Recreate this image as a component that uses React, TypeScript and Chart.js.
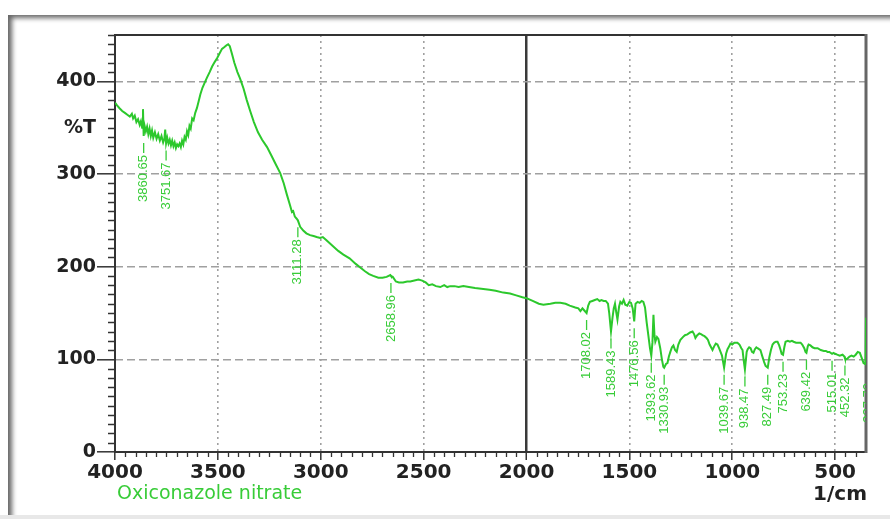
import React, { useEffect, useRef } from "react";
import { Chart, registerables } from "chart.js";

Chart.register(...registerables);

// FT-IR spectrum of Oxiconazole nitrate: [wavenumber (1/cm), %T]
const spectrumOH: [number, number][] = [
  [4000, 377], [3990, 374], [3978, 371], [3965, 368], [3952, 366], [3940, 364],
  [3928, 362], [3918, 365], [3912, 360], [3904, 363], [3896, 356], [3888, 359],
  [3880, 353], [3874, 357], [3868, 350], [3864, 370], [3860.65, 341], [3856, 352],
  [3850, 346], [3844, 351], [3838, 343], [3832, 349], [3826, 341], [3820, 347],
  [3814, 339], [3806, 345], [3798, 338], [3790, 343], [3782, 336], [3774, 341],
  [3766, 334], [3760, 338], [3756, 348], [3751.67, 333], [3746, 339], [3740, 333],
  [3734, 337], [3728, 331], [3722, 336], [3716, 330], [3710, 334], [3704, 328],
  [3698, 332], [3692, 330], [3686, 333], [3680, 329], [3674, 336], [3668, 332],
  [3662, 340], [3656, 337], [3650, 346], [3644, 342], [3638, 352], [3632, 349],
  [3625, 360], [3618, 358], [3610, 366], [3602, 371], [3594, 378], [3585, 386],
  [3575, 393], [3565, 398], [3553, 404], [3540, 410], [3528, 416], [3515, 421],
  [3504, 425], [3492, 430], [3480, 435], [3468, 437], [3458, 439], [3450, 440],
  [3442, 438], [3432, 430], [3420, 420], [3405, 410], [3392, 403], [3375, 392],
  [3360, 380], [3343, 368], [3325, 356], [3305, 345], [3285, 337], [3261, 329],
  [3240, 320], [3220, 311], [3197, 301], [3180, 290], [3165, 278], [3149, 266],
  [3140, 259], [3134, 260], [3126, 254], [3118, 252], [3111.28, 250], [3100, 243],
  [3085, 239], [3070, 236], [3052, 234], [3035, 233], [3020, 232], [3003, 231],
];

const spectrumCH: [number, number][] = [
  [2990, 232], [2975, 229], [2955, 225], [2935, 221], [2915, 217], [2890, 213],
  [2860, 209], [2830, 203], [2808, 199], [2785, 195], [2765, 192], [2745, 190],
  [2720, 188], [2700, 188], [2680, 189], [2662, 191], [2658.96, 190], [2650, 189],
  [2635, 184], [2620, 183], [2600, 183], [2580, 184], [2565, 184], [2545, 185],
  [2525, 186], [2507, 185], [2490, 183], [2475, 180], [2458, 181], [2440, 179],
  [2419, 178], [2400, 180], [2385, 178], [2371, 179], [2350, 179], [2330, 178],
  [2307, 179], [2280, 178], [2250, 177], [2210, 176], [2180, 175], [2150, 174],
  [2113, 172], [2080, 171], [2050, 169], [2020, 167], [2000, 166], [1970, 163],
  [1940, 160], [1918, 159], [1884, 160], [1860, 161], [1836, 161], [1810, 160],
];

const spectrumDouble: [number, number][] = [
  [1790, 158], [1763, 156], [1748, 155], [1738, 152], [1728, 155], [1720, 153],
  [1708.02, 150], [1700, 158], [1692, 162], [1680, 163], [1668, 164], [1656, 165],
  [1645, 163], [1636, 164], [1625, 163], [1615, 163], [1604, 160], [1598, 150],
  [1589.43, 130], [1582, 145], [1576, 155], [1570, 160], [1564, 151], [1558, 143],
  [1550, 157], [1544, 162], [1536, 160], [1528, 164], [1520, 159], [1510, 158],
  [1500, 162], [1492, 161], [1484, 155], [1476.56, 141], [1470, 160], [1460, 162],
  [1450, 161], [1440, 163], [1432, 162], [1424, 156], [1416, 140], [1408, 126],
  [1400, 112], [1393.62, 104], [1388, 118], [1383, 148], [1378, 126], [1374, 119],
  [1366, 124], [1359, 122], [1350, 112], [1342, 100], [1335, 92], [1330.93, 91],
  [1322, 95], [1315, 96], [1308, 103], [1301, 108], [1293, 113], [1286, 115],
  [1278, 110], [1270, 108], [1262, 116], [1252, 121], [1240, 124], [1230, 126],
];

const spectrumFingerprint: [number, number][] = [
  [1218, 127], [1205, 129], [1193, 130], [1185, 127], [1179, 123], [1170, 126],
  [1160, 128], [1150, 127], [1145, 126], [1135, 125], [1125, 123], [1118, 121],
  [1110, 116], [1103, 113], [1096, 110], [1088, 114], [1080, 117], [1072, 116],
  [1064, 112], [1057, 108], [1050, 104], [1039.67, 91], [1030, 106], [1023, 111],
  [1015, 114], [1009, 117], [1000, 116], [990, 118], [982, 118], [975, 118],
  [965, 116], [956, 112], [950, 110], [945, 100], [938.47, 89], [930, 108],
  [925, 111], [918, 113], [911, 112], [904, 108], [897, 107], [890, 111],
  [883, 113], [877, 112], [870, 111], [863, 110], [855, 104], [845, 97],
  [838, 93], [827.49, 91], [820, 102], [812, 110], [804, 116], [796, 118],
  [788, 119], [780, 119], [772, 115], [765, 110], [760, 106], [753.23, 105],
  [747, 113], [741, 119], [730, 120], [720, 119], [710, 120], [702, 119],
  [690, 118], [680, 118], [668, 118], [660, 116], [650, 112], [644, 108],
  [639.42, 107], [633, 114], [629, 116], [620, 115], [610, 113], [600, 112],
  [585, 112], [570, 110], [555, 109], [545, 109], [537, 108], [528, 108],
  [515.01, 106], [508, 107], [500, 106], [490, 105], [478, 104], [464, 105],
  [455, 103], [452.32, 101], [445, 100], [440, 101], [430, 103], [420, 104],
  [410, 103], [400, 105], [390, 108], [380, 107], [370, 101], [362, 96],
  [355, 95], [352, 97], [350, 145],
];

const xTickValues = [4000, 3500, 3000, 2500, 2000, 1500, 1000, 500];
const yTickValues = [0, 100, 200, 300, 400];
const peakLabels = [
  "3860.65", "3751.67", "3111.28", "2658.96", "1708.02", "1589.43", "1476.56",
  "1393.62", "1330.93", "1039.67", "938.47", "827.49", "753.23", "639.42",
  "515.01", "452.32", "337.70",
];
const sampleName = "Oxiconazole nitrate";
const xUnit = "1/cm";
const yUnit = "%T";

const X_MIN = 350;
const X_MAX = 4000;
const Y_MAX = 450;

const GREEN = "rgb(44,200,44)";
const LABEL_GREEN = "rgb(56,204,56)";
const AXIS_FONT = '"DejaVu Sans", sans-serif';

export default function App() {
  const ref = useRef<HTMLCanvasElement | null>(null);

  useEffect(() => {
    const canvas = ref.current;
    if (!canvas) return;
    const all = [...spectrumOH, ...spectrumCH, ...spectrumDouble, ...spectrumFingerprint];
    const data = all.map(([x, y]) => ({ x, y }));

    const localMin = (wn: number) => {
      const c = Math.min(Math.max(wn, X_MIN), X_MAX);
      let best = Infinity;
      for (const [x, y] of all) if (Math.abs(x - c) <= 6 && y < best) best = y;
      if (best === Infinity) {
        let d = Infinity;
        for (const [x, y] of all) if (Math.abs(x - c) < d) { d = Math.abs(x - c); best = y; }
      }
      return best;
    };

    const annot = {
      id: "annot",
      beforeDatasetsDraw(chart: any) {
        const { ctx, chartArea } = chart;
        const { left, right, top, bottom } = chartArea;
        const xs = chart.scales.x;
        const ys = chart.scales.y;
        ctx.save();
        // frame
        ctx.strokeStyle = "#333";
        ctx.lineWidth = 2;
        ctx.beginPath();
        ctx.moveTo(right, top);
        ctx.lineTo(left, top);
        ctx.lineTo(left, bottom);
        ctx.lineTo(right, bottom);
        ctx.stroke();
        ctx.strokeStyle = "#666";
        ctx.lineWidth = 3;
        ctx.beginPath();
        ctx.moveTo(right, top - 1);
        ctx.lineTo(right, bottom + 1);
        ctx.stroke();
        // minor ticks
        ctx.strokeStyle = "#333";
        ctx.lineWidth = 1.3;
        ctx.beginPath();
        for (let v = 10; v <= Y_MAX; v += 10) {
          if (v % 100 === 0) continue;
          const y = Math.round(ys.getPixelForValue(v)) + 0.5;
          ctx.moveTo(left - 7, y);
          ctx.lineTo(left, y);
        }
        for (let v = 400; v < X_MAX; v += 50) {
          if (v % 500 === 0) continue;
          const x = Math.round(xs.getPixelForValue(v)) + 0.5;
          ctx.moveTo(x, bottom);
          ctx.lineTo(x, bottom + 5);
        }
        ctx.stroke();
        // y unit
        ctx.fillStyle = "#222";
        ctx.font = `bold 19px ${AXIS_FONT}`;
        ctx.textAlign = "right";
        ctx.textBaseline = "middle";
        ctx.fillText(yUnit, left - 19, ys.getPixelForValue(350));
        // x unit
        ctx.font = `bold 20px ${AXIS_FONT}`;
        ctx.textAlign = "right";
        ctx.textBaseline = "alphabetic";
        ctx.fillText(xUnit, right + 1, bottom + 48);
        // sample name
        ctx.fillStyle = LABEL_GREEN;
        ctx.font = `19px ${AXIS_FONT}`;
        ctx.textAlign = "left";
        ctx.fillText(sampleName, left + 2, bottom + 47);
        ctx.restore();
      },
      afterDatasetsDraw(chart: any) {
        const { ctx, chartArea } = chart;
        const { left, right, top, bottom } = chartArea;
        const xs = chart.scales.x;
        const ys = chart.scales.y;
        ctx.save();
        ctx.beginPath();
        ctx.rect(left, top, right - left, bottom - top);
        ctx.clip();
        ctx.strokeStyle = LABEL_GREEN;
        ctx.fillStyle = LABEL_GREEN;
        ctx.lineWidth = 1.3;
        ctx.font = '13px "Liberation Sans", Arial, sans-serif';
        for (const lbl of peakLabels) {
          const wn = parseFloat(lbl);
          const px = xs.getPixelForValue(wn);
          const py = ys.getPixelForValue(localMin(wn));
          ctx.beginPath();
          ctx.moveTo(px, py + 7);
          ctx.lineTo(px, py + 17);
          ctx.stroke();
          ctx.save();
          ctx.translate(px, py + 19);
          ctx.rotate(-Math.PI / 2);
          ctx.textAlign = "right";
          ctx.textBaseline = "middle";
          ctx.fillText(lbl, 0, 0);
          ctx.restore();
        }
        ctx.restore();
      },
    };

    const chart = new Chart(canvas, {
      type: "line",
      data: {
        datasets: [
          {
            data,
            borderColor: GREEN,
            borderWidth: 2,
            pointRadius: 0,
            fill: false,
            tension: 0,
          },
        ],
      },
      options: {
        animation: false,
        responsive: false,
        devicePixelRatio: 1,
        layout: { padding: { left: 0, right: 24, top: 35, bottom: 0 } },
        plugins: { legend: { display: false }, tooltip: { enabled: false } },
        scales: {
          x: {
            type: "linear",
            reverse: true,
            min: X_MIN,
            max: X_MAX,
            afterBuildTicks: (s: any) => {
              s.ticks = xTickValues.map((v) => ({ value: v }));
            },
            afterFit: (s: any) => {
              s.height = 67;
            },
            ticks: {
              autoSkip: false,
              maxRotation: 0,
              padding: 1,
              color: "#222",
              font: { family: AXIS_FONT, size: 20, weight: "bold" },
              callback: (v: any) => String(v),
            },
            grid: {
              color: (c: any) =>
                c.tick && c.tick.value === 2000
                  ? "#3a3a3a"
                  : c.tick && c.tick.value === 4000
                  ? "rgba(0,0,0,0)"
                  : "#a0a0a0",
              lineWidth: (c: any) => (c.tick && c.tick.value === 2000 ? 2.5 : 1.6),
              tickColor: "#333",
              tickLength: 8,
              tickWidth: 1.5,
            },
            border: {
              display: false,
              dash: (c: any) => (c.tick && c.tick.value === 2000 ? [] : [2, 4]),
            },
          },
          y: {
            type: "linear",
            min: 0,
            max: Y_MAX,
            afterBuildTicks: (s: any) => {
              s.ticks = yTickValues.map((v) => ({ value: v }));
            },
            afterFit: (s: any) => {
              s.width = 115;
            },
            ticks: {
              padding: 1,
              color: "#222",
              font: { family: AXIS_FONT, size: 19, weight: "bold" },
              callback: (v: any) => String(v),
            },
            grid: {
              color: (c: any) => (c.tick && c.tick.value === 0 ? "rgba(0,0,0,0)" : "#a0a0a0"),
              lineWidth: 1.6,
              tickColor: "#333",
              tickLength: 18,
              tickWidth: 1.5,
            },
            border: { display: false, dash: [8, 4] },
          },
        },
      } as any,
      plugins: [annot],
    });
    return () => chart.destroy();
  }, []);

  return (
    <div style={{ position: "absolute", left: 0, top: 0, width: 890, height: 519, background: "#fff", overflow: "hidden" }}>
      <div
        style={{
          position: "absolute",
          left: 8,
          top: 15,
          width: 900,
          height: 500,
          background: "#fff",
          boxShadow: "inset 6px 5px 5px -2px rgba(0,0,0,0.6)",
        }}
      />
      <div style={{ position: "absolute", left: 0, top: 515, width: 890, height: 4, background: "#e8e8e8" }} />
      <canvas
        ref={ref}
        width={890}
        height={519}
        style={{ position: "absolute", left: 0, top: 0, width: 890, height: 519 }}
      />
    </div>
  );
}
